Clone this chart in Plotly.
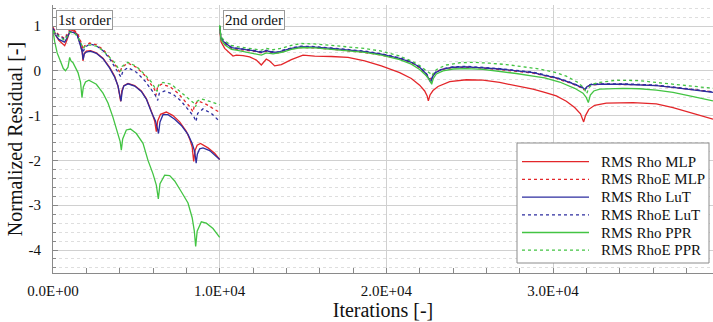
import plotly.graph_objects as go

# ---------------- data ----------------
# 1st order phase (0 .. 10000 iterations)
x1_rho_mlp = [0, 150, 350, 700, 850, 1000, 1200, 1450, 1650, 1750, 1800, 1860, 2000, 2250, 2600, 3000, 3400, 3700, 3900, 4000, 4060, 4130, 4250, 4500, 4900, 5300, 5600, 5900, 6100, 6200, 6280, 6450, 6800, 7200, 7600, 8000, 8200, 8350, 8440, 8520, 8650, 8850, 9300, 9700, 10000]
y1_rho_mlp = [0.98, 0.80, 0.68, 0.56, 0.70, 0.88, 0.90, 0.82, 0.58, 0.42, 0.22, 0.38, 0.44, 0.45, 0.40, 0.28, 0.08, -0.12, -0.34, -0.52, -0.68, -0.45, -0.33, -0.28, -0.33, -0.45, -0.62, -0.90, -1.12, -1.36, -1.12, -0.97, -0.92, -1.00, -1.14, -1.35, -1.52, -1.70, -2.02, -1.78, -1.66, -1.62, -1.72, -1.84, -1.98]

x1_rhoe_mlp = [0, 300, 700, 1000, 1300, 1500, 1700, 1800, 1900, 2200, 2600, 3000, 3400, 3700, 3900, 4020, 4120, 4500, 5000, 5500, 5900, 6100, 6180, 6280, 6500, 7000, 7500, 8000, 8250, 8400, 8480, 8700, 9200, 9600, 10000]
y1_rhoe_mlp = [0.95, 0.82, 0.72, 0.92, 0.90, 0.82, 0.62, 0.48, 0.56, 0.62, 0.58, 0.48, 0.30, 0.15, 0.04, -0.05, 0.08, 0.17, 0.08, -0.10, -0.30, -0.42, -0.54, -0.36, -0.30, -0.35, -0.50, -0.70, -0.82, -0.92, -0.78, -0.67, -0.75, -0.84, -0.93]

x1_rho_lut = [0, 150, 350, 700, 850, 1000, 1200, 1450, 1650, 1750, 1810, 1880, 2000, 2250, 2600, 3000, 3400, 3700, 3900, 4020, 4080, 4150, 4250, 4500, 4900, 5300, 5600, 5900, 6150, 6260, 6330, 6420, 6600, 6900, 7300, 7700, 8100, 8350, 8500, 8590, 8660, 8800, 9000, 9400, 9700, 10000]
y1_rho_lut = [0.95, 0.80, 0.70, 0.64, 0.74, 0.86, 0.86, 0.80, 0.56, 0.42, 0.25, 0.38, 0.42, 0.44, 0.39, 0.27, 0.06, -0.14, -0.34, -0.55, -0.68, -0.46, -0.34, -0.29, -0.34, -0.46, -0.63, -0.92, -1.12, -1.28, -1.40, -1.14, -0.98, -0.98, -1.08, -1.22, -1.42, -1.62, -1.80, -2.06, -1.86, -1.74, -1.72, -1.78, -1.88, -1.98]

x1_rhoe_lut = [0, 300, 700, 1000, 1300, 1500, 1700, 1800, 1900, 2200, 2600, 3000, 3400, 3700, 3950, 4080, 4200, 4500, 5000, 5500, 5900, 6150, 6280, 6380, 6700, 7200, 7700, 8200, 8450, 8580, 8680, 9000, 9500, 10000]
y1_rhoe_lut = [0.93, 0.80, 0.70, 0.88, 0.85, 0.76, 0.56, 0.40, 0.52, 0.60, 0.56, 0.45, 0.27, 0.10, -0.05, -0.14, 0.00, 0.07, -0.03, -0.22, -0.42, -0.55, -0.66, -0.50, -0.45, -0.52, -0.68, -0.90, -1.02, -1.13, -0.95, -0.85, -0.95, -1.13]

x1_rho_ppr = [0, 100, 250, 420, 620, 750, 900, 1000, 1080, 1200, 1350, 1500, 1650, 1740, 1820, 1950, 2150, 2600, 3000, 3300, 3600, 3900, 4030, 4100, 4180, 4400, 4650, 5000, 5400, 5700, 6000, 6200, 6320, 6420, 6700, 7000, 7300, 7700, 8100, 8350, 8480, 8560, 8650, 8900, 9200, 9600, 10000]
y1_rho_ppr = [0.90, 0.65, 0.40, 0.22, 0.05, 0.00, 0.08, 0.30, 0.22, 0.18, 0.06, -0.04, -0.25, -0.60, -0.36, -0.25, -0.21, -0.30, -0.50, -0.72, -1.04, -1.41, -1.58, -1.77, -1.52, -1.32, -1.30, -1.40, -1.62, -2.00, -2.30, -2.55, -2.86, -2.52, -2.33, -2.34, -2.46, -2.70, -2.95, -3.28, -3.58, -3.92, -3.58, -3.37, -3.40, -3.52, -3.72]

x1_rhoe_ppr = [0, 300, 700, 1000, 1300, 1500, 1700, 1800, 1900, 2200, 2600, 3000, 3400, 3700, 3950, 4050, 4150, 4500, 5000, 5500, 5900, 6150, 6250, 6330, 6600, 7100, 7600, 8100, 8450, 8560, 8650, 8900, 9400, 10000]
y1_rhoe_ppr = [0.90, 0.78, 0.68, 0.86, 0.84, 0.75, 0.60, 0.50, 0.54, 0.58, 0.55, 0.45, 0.30, 0.18, 0.04, -0.01, 0.10, 0.19, 0.10, -0.08, -0.25, -0.38, -0.46, -0.32, -0.26, -0.30, -0.45, -0.62, -0.72, -0.80, -0.68, -0.63, -0.68, -0.76]

# 2nd order phase (10000 .. 39600 iterations)
x2_rho_mlp = [10000, 10080, 10300, 10600, 10800, 11000, 11400, 11800, 12200, 12500, 12800, 13000, 13300, 13700, 14300, 15000, 15700, 16700, 17700, 18700, 19700, 20800, 21500, 22000, 22300, 22450, 22520, 22620, 22800, 23100, 23800, 24800, 25800, 26800, 27800, 28800, 29500, 30200, 30800, 31300, 31650, 31780, 31840, 31950, 32150, 32500, 33200, 34800, 36200, 37200, 38200, 39600]
y2_rho_mlp = [0.98, 0.65, 0.50, 0.41, 0.33, 0.35, 0.34, 0.31, 0.24, 0.13, 0.26, 0.22, 0.11, 0.14, 0.25, 0.35, 0.33, 0.32, 0.30, 0.22, 0.11, -0.04, -0.17, -0.32, -0.45, -0.56, -0.67, -0.54, -0.44, -0.35, -0.24, -0.20, -0.21, -0.26, -0.33, -0.41, -0.48, -0.56, -0.68, -0.82, -0.96, -1.06, -1.14, -1.00, -0.86, -0.77, -0.72, -0.71, -0.74, -0.82, -0.93, -1.08]

x2_rhoe_mlp = [10000, 10080, 10300, 10700, 11000, 11500, 12000, 12500, 12800, 13100, 13500, 13800, 14300, 14900, 15700, 16700, 17700, 18700, 19700, 20800, 21500, 22000, 22350, 22580, 22800, 23200, 24000, 24800, 25800, 26800, 27800, 28800, 29500, 30200, 31000, 31500, 31850, 32200, 32800, 34200, 35200, 36200, 37200, 38200, 39600]
y2_rhoe_mlp = [0.98, 0.70, 0.60, 0.50, 0.48, 0.46, 0.44, 0.40, 0.44, 0.41, 0.40, 0.44, 0.49, 0.52, 0.51, 0.48, 0.45, 0.41, 0.35, 0.27, 0.18, 0.07, -0.08, -0.20, -0.08, 0.02, 0.07, 0.08, 0.06, 0.03, -0.01, -0.05, -0.11, -0.17, -0.27, -0.34, -0.42, -0.32, -0.30, -0.30, -0.31, -0.33, -0.37, -0.41, -0.47]

x2_rho_lut = [10000, 10080, 10300, 10700, 11000, 11500, 12000, 12500, 12800, 13100, 13500, 13800, 14300, 14900, 15700, 16700, 17700, 18700, 19700, 20800, 21500, 22000, 22400, 22580, 22660, 22760, 22950, 23400, 24000, 24800, 25800, 26800, 27800, 28800, 29500, 30200, 31000, 31500, 31800, 31920, 32050, 32300, 32800, 34200, 35200, 36200, 37200, 38200, 39600]
y2_rho_lut = [1.00, 0.72, 0.63, 0.52, 0.50, 0.48, 0.45, 0.41, 0.45, 0.42, 0.41, 0.45, 0.50, 0.54, 0.53, 0.50, 0.47, 0.43, 0.37, 0.28, 0.19, 0.08, -0.07, -0.18, -0.26, -0.14, -0.04, 0.04, 0.08, 0.09, 0.07, 0.04, 0.00, -0.04, -0.10, -0.16, -0.26, -0.33, -0.38, -0.42, -0.35, -0.31, -0.30, -0.30, -0.31, -0.33, -0.37, -0.41, -0.48]

x2_rhoe_lut = [10000, 10080, 10300, 10700, 11000, 11500, 12000, 12500, 12800, 13100, 13500, 13800, 14300, 14900, 15700, 16700, 17700, 18700, 19700, 20800, 21500, 22000, 22400, 22600, 22680, 22780, 22950, 23400, 24000, 24800, 25800, 26800, 27800, 28800, 29500, 30200, 31000, 31500, 31800, 31940, 32060, 32300, 32800, 34200, 35200, 36200, 37200, 38200, 39600]
y2_rhoe_lut = [1.00, 0.73, 0.64, 0.53, 0.51, 0.49, 0.46, 0.42, 0.46, 0.43, 0.42, 0.46, 0.51, 0.55, 0.54, 0.51, 0.48, 0.44, 0.38, 0.29, 0.20, 0.09, -0.06, -0.17, -0.24, -0.13, -0.03, 0.05, 0.09, 0.10, 0.08, 0.05, 0.01, -0.03, -0.09, -0.15, -0.25, -0.32, -0.37, -0.41, -0.34, -0.30, -0.29, -0.29, -0.30, -0.32, -0.36, -0.40, -0.47]

x2_rho_ppr = [10000, 10080, 10300, 10700, 11000, 11500, 12000, 12500, 12800, 13200, 13800, 14300, 14900, 15700, 16700, 17700, 18700, 19700, 20800, 21500, 22000, 22400, 22620, 22720, 22820, 23000, 23400, 24000, 24800, 25800, 26800, 27800, 28800, 29500, 30400, 31300, 31800, 32000, 32120, 32240, 32450, 32800, 34200, 35200, 36200, 37200, 38200, 39600]
y2_rho_ppr = [1.02, 0.70, 0.58, 0.48, 0.46, 0.42, 0.38, 0.35, 0.40, 0.38, 0.42, 0.48, 0.52, 0.51, 0.48, 0.45, 0.41, 0.35, 0.25, 0.15, 0.03, -0.11, -0.22, -0.30, -0.17, -0.07, 0.00, 0.04, 0.05, 0.03, -0.01, -0.06, -0.12, -0.16, -0.25, -0.39, -0.50, -0.60, -0.71, -0.54, -0.45, -0.41, -0.39, -0.40, -0.43, -0.48, -0.56, -0.67]

x2_rhoe_ppr = [10000, 10080, 10300, 10700, 11000, 11500, 12000, 12500, 12800, 13200, 13800, 14300, 14900, 15700, 16700, 17700, 18700, 19700, 20800, 21500, 22000, 22400, 22640, 22750, 22860, 23100, 23600, 24400, 25200, 26200, 27200, 28200, 29200, 30200, 30800, 31500, 31850, 32020, 32150, 32350, 32800, 33800, 35200, 36200, 37200, 38200, 39600]
y2_rhoe_ppr = [1.00, 0.76, 0.67, 0.57, 0.54, 0.52, 0.49, 0.46, 0.50, 0.47, 0.51, 0.57, 0.61, 0.60, 0.57, 0.54, 0.50, 0.44, 0.33, 0.22, 0.12, 0.00, -0.06, -0.11, -0.02, 0.05, 0.13, 0.18, 0.19, 0.17, 0.14, 0.09, 0.04, -0.04, -0.12, -0.26, -0.38, -0.51, -0.38, -0.30, -0.26, -0.21, -0.22, -0.26, -0.30, -0.33, -0.39]

series_names = ["RMS Rho MLP", "RMS RhoE MLP", "RMS Rho LuT", "RMS RhoE LuT", "RMS Rho PPR", "RMS RhoE PPR"]
x_tick_vals = [0, 10000, 20000, 30000]
x_tick_text = ["0.0E+00", "1.0E+04", "2.0E+04", "3.0E+04"]
y_tick_vals = [1, 0, -1, -2, -3, -4]
y_tick_text = ["1", "0", "-1", "-2", "-3", "-4"]
phase_labels = ["1st order", "2nd order"]
phase_starts = [0, 10000]

# ---------------- styling ----------------
RED, BLUE, GREEN = "#e3262a", "#2d2d9f", "#43c443"
colors = [RED, RED, BLUE, BLUE, GREEN, GREEN]
dashes = ["solid", "dot", "solid", "dot", "solid", "dot"]
FONT = "Liberation Serif"
W, H = 713, 322
L, R, T, B = 53, 713, 5, 273

def pxx(px):
    return (px - L) / (R - L)

def pxy(py):
    return (B - py) / (B - T)

series = [
    (x1_rho_mlp, y1_rho_mlp, x2_rho_mlp, y2_rho_mlp),
    (x1_rhoe_mlp, y1_rhoe_mlp, x2_rhoe_mlp, y2_rhoe_mlp),
    (x1_rho_lut, y1_rho_lut, x2_rho_lut, y2_rho_lut),
    (x1_rhoe_lut, y1_rhoe_lut, x2_rhoe_lut, y2_rhoe_lut),
    (x1_rho_ppr, y1_rho_ppr, x2_rho_ppr, y2_rho_ppr),
    (x1_rhoe_ppr, y1_rhoe_ppr, x2_rhoe_ppr, y2_rhoe_ppr),
]

fig = go.Figure()
for (xa, ya, xb, yb), name, c, d in zip(series, series_names, colors, dashes):
    fig.add_trace(go.Scatter(
        x=list(xa) + [None] + list(xb),
        y=list(ya) + [None] + list(yb),
        mode="lines", name=name, connectgaps=False,
        line=dict(color=c, width=1.3, dash=d),
        showlegend=False,
    ))

# phase labels
for lab, xs in zip(phase_labels, phase_starts):
    fig.add_annotation(x=xs, xref="x", y=pxy(10), yref="paper", text=lab,
                       xanchor="left", yanchor="top", xshift=3, showarrow=False,
                       font=dict(family=FONT, size=15, color="#111"),
                       bgcolor="white", bordercolor="#9a9a9a", borderwidth=1, borderpad=1)

# custom legend (box, line samples, labels)
box_l, box_r, box_t, box_b = 517, 709, 143, 263
fig.add_shape(type="rect", xref="paper", yref="paper",
              x0=pxx(box_l), x1=pxx(box_r), y0=pxy(box_b), y1=pxy(box_t),
              fillcolor="white", line=dict(color="#8c8c8c", width=1), layer="above")
row0, row_step = 161.7, 17.7
for i, (name, c, d) in enumerate(zip(series_names, colors, dashes)):
    ry = row0 + i * row_step
    fig.add_shape(type="line", xref="paper", yref="paper",
                  x0=pxx(522), x1=pxx(589), y0=pxy(ry), y1=pxy(ry),
                  line=dict(color=c, width=1.3, dash=d), layer="above")
    fig.add_annotation(x=pxx(599), y=pxy(ry), xref="paper", yref="paper", text=name,
                       xanchor="left", yanchor="middle", showarrow=False,
                       font=dict(family=FONT, size=15, color="#111"))

fig.update_layout(
    width=W, height=H,
    margin=dict(l=L, r=W - R, t=T, b=H - B),
    paper_bgcolor="white", plot_bgcolor="white",
    font=dict(family=FONT, size=15, color="#111"),
    showlegend=False,
)
fig.update_xaxes(
    range=[0, 39600], tickvals=x_tick_vals, ticktext=x_tick_text,
    ticks="inside", ticklen=5, tickcolor="#888", ticklabelstandoff=4,
    showline=True, linecolor="#8a8a8a", linewidth=1,
    showgrid=True, gridcolor="#d0d0d0", gridwidth=1, zeroline=False,
    minor=dict(dtick=2000, ticks="inside", ticklen=5, tickcolor="#888", showgrid=False),
    tickfont=dict(family=FONT, size=15, color="#111"),
    title=dict(text="Iterations [-]", font=dict(family=FONT, size=20, color="#111"), standoff=0),
)
fig.update_yaxes(
    range=[-4.513, 1.469], tickvals=y_tick_vals, ticktext=y_tick_text,
    ticks="inside", ticklen=5, tickcolor="#888", ticklabelstandoff=8,
    showline=True, linecolor="#8a8a8a", linewidth=1,
    showgrid=True, gridcolor="#d0d0d0", gridwidth=1, zeroline=False,
    minor=dict(dtick=0.2, tick0=0, ticks="inside", ticklen=3, tickcolor="#888",
               showgrid=True, gridcolor="#dedede", griddash="dot", gridwidth=1),
    tickfont=dict(family=FONT, size=15, color="#111"),
    title=dict(text="Normalized Residual [-]", font=dict(family=FONT, size=20, color="#111"), standoff=0),
)

fig.write_html("out.html")
